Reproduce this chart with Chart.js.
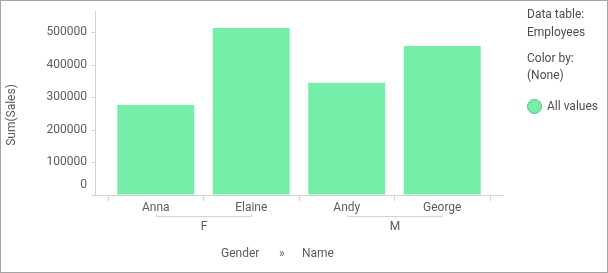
<!DOCTYPE html>
<html>
<head>
<meta charset="utf-8">
<script src="https://cdn.jsdelivr.net/npm/chart.js"></script>
<style>
  body { margin: 0; background: #fff; overflow: hidden; }
  #wrap { position: relative; width: 608px; height: 273px; font-family: Roboto, sans-serif; }
  #wrap canvas { position: absolute; left: 0; top: 0; }
  .lg { position: absolute; left: 527px; font-size: 12px; line-height: 16px; color: #4b4d55; white-space: nowrap; }
  .dot { position: absolute; left: 527px; top: 99px; width: 13px; height: 13px; border-radius: 50%;
         background: #75eea9; border: 1px solid #55c383; }
</style>
</head>
<body>
<div id="wrap">
  <canvas id="chart" width="608" height="273"></canvas>
  <div class="lg" style="top:6px">Data table:</div>
  <div class="lg" style="top:24px">Employees</div>
  <div class="lg" style="top:50px">Color by:</div>
  <div class="lg" style="top:67px">(None)</div>
  <div class="dot"></div>
  <div class="lg" style="left:547px;top:98px">All values</div>
</div>
<script>
const names = ["Anna", "Elaine", "Andy", "George"];
const genders = ["F", "F", "M", "M"];
const sales = [277000, 514000, 345000, 458000];
const yTicks = [0, 100000, 200000, 300000, 400000, 500000];
const yTitle = "Sum(Sales)";
const xTitleParts = ["Gender", "»", "Name"];

const BAR = "#75eea9";
const AXIS = "#d2d2dc";
const TEXT = "#5a5c64";
const FONT = "12px Roboto";

// Axis lines sit a little outside the plot area, Spotfire style
const axesPlugin = {
  id: "axes",
  beforeDatasetsDraw(chart) {
    const { ctx, chartArea, scales } = chart;
    const yx = chartArea.left - 12.5;
    ctx.save();
    ctx.strokeStyle = AXIS;
    ctx.lineWidth = 1;
    ctx.beginPath();
    ctx.moveTo(yx, chartArea.top);
    ctx.lineTo(yx, chartArea.bottom + 0.5);
    ctx.moveTo(yx - 4, chartArea.bottom + 0.5);
    ctx.lineTo(chartArea.right + 14, chartArea.bottom + 0.5);
    yTicks.forEach((v) => {
      const py = Math.round(scales.y.getPixelForValue(v)) + 0.5;
      ctx.moveTo(yx - 4, py);
      ctx.lineTo(yx, py);
    });
    ctx.stroke();
    ctx.restore();
  },
  afterDraw(chart) {
    const { ctx, chartArea, scales } = chart;
    ctx.save();
    ctx.font = FONT;
    ctx.fillStyle = TEXT;
    ctx.strokeStyle = AXIS;
    ctx.lineWidth = 1;

    // gender group brackets
    const groups = [...new Set(genders)];
    groups.forEach((g) => {
      const idx = genders.map((v, i) => (v === g ? i : -1)).filter((i) => i >= 0);
      const x0 = Math.round(scales.x.getPixelForValue(idx[0])) + 0.5;
      const x1 = Math.round(scales.x.getPixelForValue(idx[idx.length - 1])) + 0.5;
      const by = chartArea.bottom + 21.5;
      const mid = (x0 + x1) / 2;
      ctx.beginPath();
      ctx.moveTo(x0, by - 2);
      ctx.lineTo(x0, by);
      ctx.lineTo(x1, by);
      ctx.lineTo(x1, by - 2);
      ctx.moveTo(Math.round(mid) + 0.5, by);
      ctx.lineTo(Math.round(mid) + 0.5, by + 2);
      ctx.stroke();
      ctx.textAlign = "center";
      ctx.textBaseline = "middle";
      ctx.fillText(g, mid, chartArea.bottom + 32);
    });

    // x title
    ctx.textAlign = "left";
    ctx.fillText(xTitleParts[0], 221, 254);
    ctx.fillText(xTitleParts[1], 279, 254);
    ctx.fillText(xTitleParts[2], 302, 254);

    // y title
    ctx.translate(12, 115);
    ctx.rotate(-Math.PI / 2);
    ctx.textAlign = "center";
    ctx.fillText(yTitle, 0, 0);
    ctx.setTransform(1, 0, 0, 1, 0, 0);

    // frame
    ctx.strokeStyle = "#a4a4a4";
    ctx.strokeRect(0.5, 0.5, 607, 272);
    ctx.restore();
  },
};

new Chart(document.getElementById("chart"), {
  type: "bar",
  data: {
    labels: names,
    datasets: [{
      data: sales,
      backgroundColor: BAR,
      barPercentage: 0.806,
      categoryPercentage: 1,
    }],
  },
  options: {
    responsive: false,
    animation: false,
    layout: { padding: { top: 11, right: 118, left: 0, bottom: 0 } },
    plugins: { legend: { display: false }, tooltip: { enabled: false } },
    scales: {
      x: {
        grid: { drawOnChartArea: false, offset: true, tickLength: 6, color: AXIS },
        border: { display: false },
        ticks: { color: TEXT, font: { family: "Roboto", size: 12 }, padding: 0, maxRotation: 0, autoSkip: false },
        afterFit(scale) {
          scale.height = 78;
          scale.paddingLeft = 0;
          scale.paddingRight = 0;
        },
      },
      y: {
        min: 0,
        max: 566000,
        grid: { drawOnChartArea: false, drawTicks: false },
        border: { display: false },
        ticks: {
          color: TEXT,
          padding: 21,
          autoSkip: false,
          font: { family: "Roboto", size: 12, lineHeight: 1.7 },
          callback: (v) => (v === 0 ? ["0", ""] : String(v)),
        },
        afterBuildTicks(scale) { scale.ticks = yTicks.map((v) => ({ value: v })); },
        afterFit(scale) {
          scale.width = 108;
          scale.paddingTop = 0;
          scale.paddingBottom = 0;
        },
      },
    },
  },
  plugins: [axesPlugin],
});
</script>
</body>
</html>
